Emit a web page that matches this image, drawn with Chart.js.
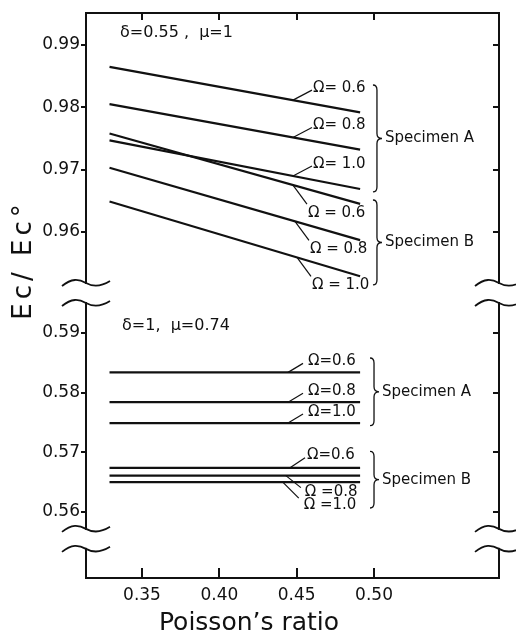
<!DOCTYPE html>
<html>
<head>
<meta charset="utf-8">
<script src="https://cdn.jsdelivr.net/npm/chart.js@4"></script>
<style>
  html, body { margin: 0; padding: 0; background: #fff; }
</style>
</head>
<body>
<canvas id="chart" width="516" height="642"></canvas>
<script>
// Poisson's ratio at the two ends of every line
const poissonX = [0.329, 0.491];

// upper panel: delta=0.55, mu=1
const upperA06 = [0.9865, 0.9792];
const upperA08 = [0.9805, 0.9732];
const upperA10 = [0.9747, 0.9669];
const upperB06 = [0.9758, 0.9645];
const upperB08 = [0.9703, 0.9587];
const upperB10 = [0.9649, 0.9529];

// lower panel: delta=1, mu=0.74 (flat lines)
const lowerA06 = [0.5834, 0.5834];
const lowerA08 = [0.5784, 0.5784];
const lowerA10 = [0.5749, 0.5749];
const lowerB06 = [0.5674, 0.5674];
const lowerB08 = [0.5661, 0.5661];
const lowerB10 = [0.5650, 0.5650];

// ticks
const xTicks = [0.35, 0.40, 0.45, 0.50];
const upperTicks = [0.96, 0.97, 0.98, 0.99];
const lowerTicks = [0.56, 0.57, 0.58, 0.59];

// texts
const omegaUpper = ['Ω= 0.6', 'Ω= 0.8', 'Ω= 1.0', 'Ω = 0.6', 'Ω = 0.8', 'Ω = 1.0'];
const omegaLower = ['Ω=0.6', 'Ω=0.8', 'Ω=1.0', 'Ω=0.6', 'Ω =0.8', 'Ω =1.0'];
const specimens = ['Specimen A', 'Specimen B'];
const panelTitles = ['δ=0.55 ,  μ=1', 'δ=1,  μ=0.74'];
const xTitle = 'Poisson’s ratio';
const yTitle = 'Ec/ Ec°';

// axis ranges (broken y axis -> two stacked scales)
const xRange = [0.3138, 0.5808];
const upperRange = [0.95021, 0.99513];
const lowerRange = [0.54894, 0.59670];

const ink = '#111';
const FONT = "'DejaVu Sans', sans-serif";

// where the omega labels sit: x of the anchor on the line, leader end, text offset (px)
const upperLeaders = [
  { at: 0.4476, end: [19, -10], text: [20, -12] },
  { at: 0.4476, end: [19, -10], text: [20, -12] },
  { at: 0.4476, end: [19, -10], text: [20, -12] },
  { at: 0.4476, end: [14, 19], text: [15, 28] },
  { at: 0.4489, end: [14, 19], text: [15, 28] },
  { at: 0.4502, end: [14, 19], text: [15, 28] }
];
const lowerLeaders = [
  { at: 0.4444, end: [15, -9], text: [20, -11] },
  { at: 0.4444, end: [15, -9], text: [20, -11] },
  { at: 0.4444, end: [15, -9], text: [20, -11] },
  { at: 0.4457, end: [15, -10], text: [17, -13] },
  { at: 0.4430, end: [15, 12], text: [19, 17] },
  { at: 0.4410, end: [16, 16], text: [21, 23] }
];

function line(vals, axis) {
  return {
    data: poissonX.map((x, i) => ({ x: x, y: vals[i] })),
    yAxisID: axis,
    borderColor: ink,
    borderWidth: 2.2,
    pointRadius: 0,
    fill: false,
    tension: 0
  };
}

const upperSets = [upperA06, upperA08, upperA10, upperB06, upperB08, upperB10];
const lowerSets = [lowerA06, lowerA08, lowerA10, lowerB06, lowerB08, lowerB10];

function valueAt(vals, x) {
  const t = (x - poissonX[0]) / (poissonX[1] - poissonX[0]);
  return vals[0] + (vals[1] - vals[0]) * t;
}

function wave(ctx, cx, cy, w) {
  ctx.beginPath();
  ctx.moveTo(cx - w, cy + 3);
  ctx.bezierCurveTo(cx - w * 0.6, cy - 5, cx - w * 0.3, cy - 4, cx, cy);
  ctx.bezierCurveTo(cx + w * 0.3, cy + 4, cx + w * 0.6, cy + 4, cx + w, cy - 2);
  ctx.stroke();
}

function brace(ctx, x, y0, y1, tip) {
  const m = (y0 + y1) / 2;
  ctx.beginPath();
  ctx.moveTo(x - 4, y0);
  ctx.quadraticCurveTo(x, y0, x, y0 + 5);
  ctx.lineTo(x, m - 5);
  ctx.quadraticCurveTo(x, m, x + tip, m);
  ctx.quadraticCurveTo(x, m, x, m + 5);
  ctx.lineTo(x, y1 - 5);
  ctx.quadraticCurveTo(x, y1, x - 4, y1);
  ctx.stroke();
}

// braces: x, top, bottom (data units) and the axis they belong to
const braces = [
  { axis: 'yUp', x: 0.5019, from: 0.98358, to: 0.96642, label: 0 },
  { axis: 'yUp', x: 0.5019, from: 0.96513, to: 0.95150, label: 1 },
  { axis: 'yLow', x: 0.5000, from: 0.58581, to: 0.57447, label: 0 },
  { axis: 'yLow', x: 0.5000, from: 0.57017, to: 0.56067, label: 1 }
];

const decor = {
  id: 'decor',
  afterDraw(chart) {
    const { ctx, chartArea: ca, scales } = chart;
    const { x, yUp, yLow } = scales;
    ctx.save();
    ctx.strokeStyle = ink;
    ctx.fillStyle = ink;

    // inward tick marks on bottom, top and right
    ctx.lineWidth = 2;
    ctx.beginPath();
    xTicks.forEach(v => {
      const px = Math.round(x.getPixelForValue(v));
      ctx.moveTo(px, ca.bottom); ctx.lineTo(px, ca.bottom - 10);
      ctx.moveTo(px, ca.top); ctx.lineTo(px, ca.top + 7);
    });
    upperTicks.forEach(v => {
      const py = Math.round(yUp.getPixelForValue(v));
      ctx.moveTo(ca.right, py); ctx.lineTo(ca.right - 6, py);
    });
    lowerTicks.forEach(v => {
      const py = Math.round(yLow.getPixelForValue(v));
      ctx.moveTo(ca.right, py); ctx.lineTo(ca.right - 6, py);
    });
    ctx.stroke();

    // axis breaks
    const breaks = [yUp.bottom, yLow.getPixelForValue(0.5555)];
    ctx.lineWidth = 1.8;
    breaks.forEach(c => {
      [ca.left, ca.right].forEach(ax => {
        ctx.fillStyle = '#fff';
        ctx.fillRect(ax - 3, c - 9, 6, 18);
        wave(ctx, ax, c - 10, 24);
        wave(ctx, ax, c + 10, 24);
      });
    });
    ctx.fillStyle = ink;

    // omega labels with leaders
    ctx.font = '15px ' + FONT;
    ctx.textBaseline = 'middle';
    ctx.textAlign = 'left';
    ctx.lineWidth = 1.2;
    const drawLeaders = (sets, leaders, texts, scale) => {
      sets.forEach((vals, i) => {
        const L = leaders[i];
        const ax = x.getPixelForValue(L.at);
        const ay = scale.getPixelForValue(valueAt(vals, L.at));
        ctx.beginPath();
        ctx.moveTo(ax, ay);
        ctx.lineTo(ax + L.end[0], ay + L.end[1]);
        ctx.stroke();
        ctx.fillText(texts[i], ax + L.text[0], ay + L.text[1]);
      });
    };
    drawLeaders(upperSets, upperLeaders, omegaUpper, yUp);
    drawLeaders(lowerSets, lowerLeaders, omegaLower, yLow);

    // braces + specimen names
    ctx.lineWidth = 1.3;
    braces.forEach(b => {
      const s = scales[b.axis];
      const bx = x.getPixelForValue(b.x);
      const y0 = s.getPixelForValue(b.from);
      const y1 = s.getPixelForValue(b.to);
      brace(ctx, bx, y0, y1, 5);
      ctx.fillText(specimens[b.label], bx + 8, (y0 + y1) / 2);
    });

    // panel titles
    ctx.font = '16px ' + FONT;
    ctx.fillText(panelTitles[0], x.getPixelForValue(0.3358), yUp.getPixelForValue(0.99193));
    ctx.fillText(panelTitles[1], x.getPixelForValue(0.3371), yLow.getPixelForValue(0.59117));

    // x axis title (sits left of the plot centre in the original)
    ctx.textAlign = 'center';
    ctx.font = '25px ' + FONT;
    ctx.fillText(xTitle, 249, 623);

    // y axis title
    ctx.translate(24, 260);
    ctx.rotate(-Math.PI / 2);
    ctx.font = '26px ' + FONT;
    ctx.letterSpacing = '4px';
    ctx.fillText(yTitle, 0, 0);
    ctx.restore();
  }
};

function fixedTicks(list) {
  return s => { s.ticks = list.map(v => ({ value: v })); };
}

const leftY = (range, ticks, weight) => ({
  type: 'linear',
  position: 'left',
  stack: 'L',
  stackWeight: weight,
  min: range[0],
  max: range[1],
  afterBuildTicks: fixedTicks(ticks),
  afterFit: s => { s.width = 86; },
  grid: { drawOnChartArea: false, drawTicks: true, tickLength: 5, color: ink, lineWidth: 2 },
  border: { color: ink, width: 2 },
  ticks: { color: ink, padding: 1, font: { family: FONT, size: 17 }, callback: v => v.toFixed(2) }
});

const rightY = (range, weight) => ({
  type: 'linear',
  position: 'right',
  stack: 'R',
  stackWeight: weight,
  min: range[0],
  max: range[1],
  afterFit: s => { s.width = 17; },
  grid: { drawOnChartArea: false, drawTicks: false },
  border: { color: ink, width: 2 },
  ticks: { display: false }
});

new Chart(document.getElementById('chart'), {
  type: 'line',
  data: {
    datasets: [
      ...upperSets.map(v => line(v, 'yUp')),
      ...lowerSets.map(v => line(v, 'yLow'))
    ]
  },
  options: {
    responsive: false,
    animation: false,
    layout: { padding: 0 },
    plugins: { legend: { display: false }, tooltip: { enabled: false } },
    scales: {
      x: {
        type: 'linear',
        position: 'bottom',
        min: xRange[0],
        max: xRange[1],
        afterBuildTicks: fixedTicks(xTicks),
        afterFit: s => { s.height = 64; },
        grid: { drawOnChartArea: false, drawTicks: false },
        border: { color: ink, width: 2 },
        ticks: { color: ink, padding: 7, maxRotation: 0, font: { family: FONT, size: 17 }, callback: v => v.toFixed(2) }
      },
      xTop: {
        type: 'linear',
        position: 'top',
        min: xRange[0],
        max: xRange[1],
        afterFit: s => { s.height = 13; },
        grid: { drawOnChartArea: false, drawTicks: false },
        border: { color: ink, width: 2 },
        ticks: { display: false }
      },
      yLow: leftY(lowerRange, lowerTicks, 285),
      yUp: leftY(upperRange, upperTicks, 280),
      yUpR: rightY(upperRange, 280),
      yLowR: rightY(lowerRange, 285)
    }
  },
  plugins: [decor]
});
</script>
</body>
</html>
